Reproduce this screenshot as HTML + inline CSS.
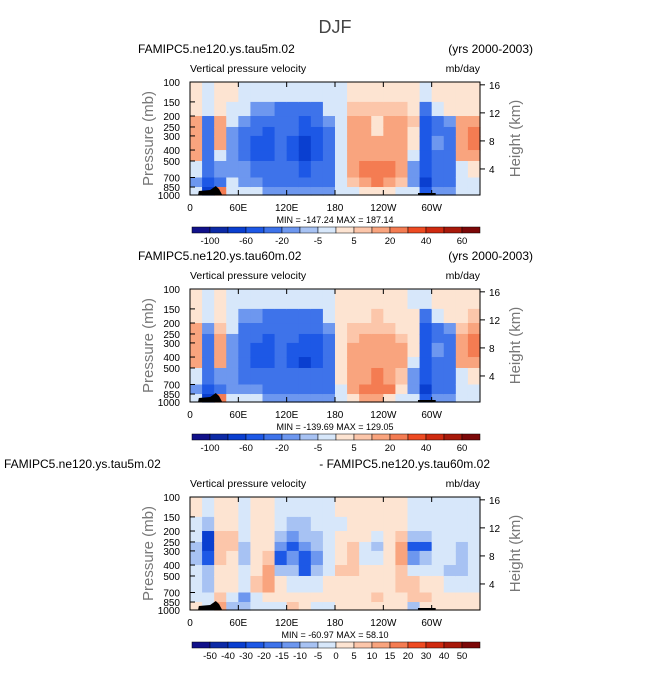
<!DOCTYPE html>
<html><head><meta charset="utf-8"><style>
body{margin:0;background:#fff;width:671px;height:672px;overflow:hidden}
svg text{font-family:"Liberation Sans",sans-serif}
</style></head><body>
<svg id="s" width="671" height="672">
<text x="335" y="33" font-size="18" fill="#444" text-anchor="middle">DJF</text>
</svg>
<script>
const lonLabels=["0","60E","120E","180","120W","60W"];
const presLabels=[100,150,200,250,300,400,500,700,850,1000];
const rowEdges=[100,150,200,250,300,400,500,700,850,1000];
const heightTicks=[4,8,12,16];
const bounds1=[-100,-80,-60,-40,-20,-10,-5,0,5,10,20,30,40,50,60];
const bounds3=[-50,-40,-30,-20,-15,-10,-5,0,5,10,15,20,30,40,50];
const palette=["#11118a","#0c2aa6","#0a3fd0","#1d58e6","#3e73ea","#6d97ef","#a7c2f3","#d7e7fa","#fde4d2","#fcc6aa","#f9a47e","#f47c52","#ee4b22","#cf2a10","#a8190a","#7c0808"];
const field1=[
[3,3,15,15,15,15,-3,-10,-3],[-3,-3,-20,-20,-20,-20,-20,-40,-60],[3,3,15,15,15,-3,-10,-20,30],
[3,-3,-3,-10,-10,-10,-10,-3,-3],[-3,-3,-10,-20,-20,-20,-10,-10,-3],[-3,-10,-20,-20,-40,-40,-20,-10,-3],
[-3,-10,-20,-40,-40,-40,-20,-20,-10],[-3,-20,-20,-20,-20,-20,-20,-20,-10],[-3,-20,-20,-20,-40,-40,-20,-20,-10],
[-3,-20,-40,-40,-60,-60,-40,-20,-10],[-3,-20,-20,-40,-40,-40,-20,-20,-10],[-3,-3,-10,-20,-20,-20,-20,-20,-10],
[-3,-3,-3,-3,-3,-3,-3,-3,-3],[3,8,15,15,15,15,15,8,-3],[3,8,15,15,15,15,25,15,3],
[3,8,3,3,15,15,25,25,3],[3,8,15,15,15,15,25,15,3],[3,8,15,15,15,15,15,8,-3],
[3,3,8,3,3,-3,-10,-10,-3],[-3,-20,-40,-40,-40,-40,-40,-60,-40],[3,-3,-20,-20,-10,-20,-20,-20,-10],
[3,3,-10,-20,-20,-20,-20,-20,-10],[3,3,15,15,15,15,-3,-3,-3],[3,3,15,25,25,15,3,-3,-3]];
const field2=[
[3,3,15,15,15,15,-3,-10,-3],[-3,-3,-10,-20,-20,-20,-20,-40,-60],[3,3,8,15,15,15,-10,-20,30],
[-3,-3,-3,-10,-10,-10,-10,-10,-3],[-3,-10,-20,-20,-20,-20,-20,-10,-3],[-3,-10,-20,-20,-40,-40,-20,-10,-3],
[-3,-20,-20,-40,-40,-40,-20,-20,-10],[-3,-20,-20,-20,-20,-20,-20,-20,-10],[-3,-20,-20,-20,-40,-40,-20,-20,-10],
[-3,-20,-20,-40,-40,-60,-20,-20,-10],[-3,-20,-20,-40,-40,-40,-20,-20,-10],[-3,-3,-10,-20,-20,-20,-20,-20,-10],
[3,3,3,3,3,3,3,-3,-3],[3,3,8,8,15,15,15,15,3],[3,3,8,15,15,15,15,25,15],
[3,8,8,15,15,15,25,25,15],[3,3,8,15,15,15,15,25,3],[3,3,3,8,15,15,8,3,-3],
[-3,3,3,3,3,-3,-10,-10,-3],[-3,-20,-40,-40,-40,-40,-40,-60,-40],[3,-3,-20,-20,-10,-20,-20,-20,-10],
[3,3,-10,-20,-20,-20,-20,-20,-10],[3,3,8,15,15,15,-3,-3,-3],[3,8,15,25,25,15,3,-3,-3]];
const field3=[
[1,-3,-3,-8,-8,-3,-3,-3,3],[-3,-8,-30,-30,-20,-8,-8,-3,-3],[3,3,8,8,8,3,3,8,12],
[3,3,8,8,3,3,3,-3,-8],[-3,-3,-3,-8,-8,-3,-3,-12,-8],[1,3,3,3,3,3,8,-3,-3],
[1,3,3,3,8,12,12,3,-3],[-3,-3,-8,-12,-20,-8,1,3,-3],[-3,-8,-12,-20,-12,-8,-3,3,8],
[-3,-8,-8,-12,-20,-20,-3,3,3],[-3,-3,-8,-8,-12,-8,-3,1,-3],[-3,-3,-3,-3,-3,-3,1,1,-3],
[1,-3,3,3,3,8,3,3,1],[1,3,3,8,8,8,3,3,3],[3,3,1,-3,-3,3,3,3,3],
[3,3,-3,-8,-3,3,3,8,3],[3,3,3,1,3,3,3,3,3],[3,3,8,12,12,8,8,3,3],
[-3,-3,-8,-20,-12,-3,8,8,-8],[-3,-3,-8,-20,-8,-3,3,8,3],[-3,-3,-3,-3,-3,-3,3,3,1],
[-3,-3,-3,-3,-3,-8,-3,1,1],[-3,-3,-3,-8,-8,-8,-3,1,1],[-3,-3,-3,-3,-3,-3,-3,1,1]];
const panels=[
 {top:82,field:field1,bounds:bounds1,labs:["-100","-60","-20","-5","5","20","40","60"],labIdx:[0,2,4,6,8,10,12,14],ltitle:"FAMIPC5.ne120.ys.tau5m.02",lx:138,rtitle:"(yrs 2000-2003)",rx:533,minmax:"MIN = -147.24   MAX = 187.14"},
 {top:289,field:field2,bounds:bounds1,labs:["-100","-60","-20","-5","5","20","40","60"],labIdx:[0,2,4,6,8,10,12,14],ltitle:"FAMIPC5.ne120.ys.tau60m.02",lx:138,rtitle:"(yrs 2000-2003)",rx:533,minmax:"MIN = -139.69   MAX = 129.05"},
 {top:497,field:field3,bounds:bounds3,labs:bounds3.map(String),labIdx:[0,1,2,3,4,5,6,7,8,9,10,11,12,13,14],ltitle:"FAMIPC5.ne120.ys.tau5m.02",lx:4,rtitle:"- FAMIPC5.ne120.ys.tau60m.02",rx:490,minmax:"MIN = -60.97   MAX =  58.10"}];
const NS="http://www.w3.org/2000/svg";
const svg=document.getElementById('s');
function mk(t,a,p){const e=document.createElementNS(NS,t);for(const k in a)e.setAttribute(k,a[k]);(p||svg).appendChild(e);return e;}
const X0=190,W=290,H=113;
function xs(lon){return X0+lon/360*W;}
function colorOf(v,b){let i=0;while(i<b.length&&v>b[i])i++;return palette[i];}
panels.forEach((P,pi)=>{
 const g=mk('g',{});
 
 
 const ys=p=>P.top+Math.log10(p/100)*H;
 let t=mk('text',{x:P.lx,y:P.top-29,'font-size':12,fill:'#000'},g);t.textContent=P.ltitle;
 
 t=mk('text',{x:P.rx,y:P.top-29,'font-size':12,fill:'#000','text-anchor':'end'},g);t.textContent=P.rtitle;
 
 t=mk('text',{x:190,y:P.top-10,'font-size':10.5,fill:'#000'},g);t.textContent="Vertical pressure velocity";
 
 t=mk('text',{x:480,y:P.top-10,'font-size':10.5,fill:'#000','text-anchor':'end'},g);t.textContent="mb/day";
 
 P.field.forEach((col,ci)=>{col.forEach((v,ri)=>{
  const y1=ys(rowEdges[ri]),y2=ys(rowEdges[ri+1]);
  const r=mk('rect',{x:xs(ci*15),y:y1,width:W/24+0.6,height:y2-y1+0.6,fill:colorOf(v,P.bounds)},g);
  
 });});
 let tp=mk('path',{d:`M${xs(10)} ${P.top+H} L${xs(11)} ${P.top+H-4} L${xs(25)} ${P.top+H-5} L${xs(32)} ${P.top+H-9} L${xs(36)} ${P.top+H-6} L${xs(40)} ${P.top+H} Z`,fill:'#000'},g);
 
 tp=mk('rect',{x:xs(283),y:P.top+H-2,width:xs(305)-xs(283),height:2,fill:'#000'},g);
 
 const fr=mk('rect',{x:X0,y:P.top,width:W,height:H,fill:'none',stroke:'#000','stroke-width':1},g);
 
 presLabels.forEach(p=>{const y=ys(p);
  mk('line',{x1:X0,x2:X0+5,y1:y,y2:y,stroke:'#000'},g);
  const l=mk('text',{x:180,y:y+4,'font-size':10,'text-anchor':'end',fill:'#000'},g);l.textContent=p;
  });
 heightTicks.forEach(h=>{const p=1000*Math.exp(-h/7);const y=ys(p)+2;
  mk('line',{x1:X0+W,x2:X0+W+5,y1:y,y2:y,stroke:'#000'},g);
  const l=mk('text',{x:489,y:y+4,'font-size':10,fill:'#000'},g);l.textContent=h;
  });
 lonLabels.forEach((s,i)=>{const x=xs(i*60);
  mk('line',{x1:x,x2:x,y1:P.top+H,y2:P.top+H-5,stroke:'#000'},g);
  mk('line',{x1:x,x2:x,y1:P.top,y2:P.top+5,stroke:'#000'},g);
  const l=mk('text',{x:x,y:P.top+H+16,'font-size':10,'text-anchor':'middle',fill:'#000'},g);l.textContent=s;
  });
 t=mk('text',{x:335,y:P.top+H+28,'font-size':9,'text-anchor':'middle',fill:'#000'},g);t.textContent=P.minmax;
 
 t=mk('text',{x:0,y:0,'font-size':15,fill:'#777','text-anchor':'middle',transform:`translate(153,${P.top+H/2}) rotate(-90)`},g);t.textContent="Pressure (mb)";
 
 t=mk('text',{x:0,y:0,'font-size':15,fill:'#777','text-anchor':'middle',transform:`translate(520,${P.top+H/2}) rotate(-90)`},g);t.textContent="Height (km)";
 
 const cy=P.top+145,bw=288/16;
 palette.forEach((c,i)=>{const r=mk('rect',{x:192+i*bw,y:cy,width:bw,height:6,fill:c,stroke:'#000','stroke-width':0.5},g);
  });
 P.labs.forEach((s,k)=>{const l=mk('text',{x:192+(P.labIdx[k]+1)*bw,y:cy+17,'font-size':9.5,'text-anchor':'middle',fill:'#000'},g);l.textContent=s;
  });
});
</script>
</body></html>
